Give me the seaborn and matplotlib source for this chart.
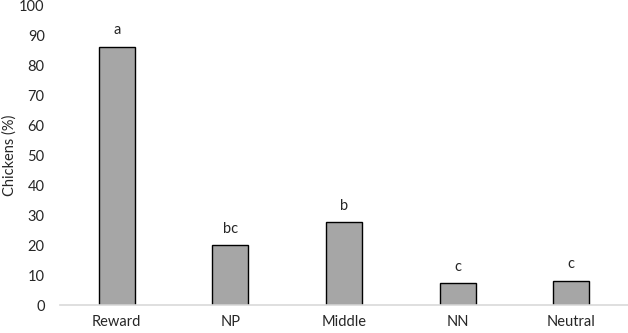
import matplotlib
matplotlib.use("Agg")
import matplotlib.pyplot as plt
import seaborn as sns
import pandas as pd

# Data
groups = ["Reward", "NP", "Middle", "NN", "Neutral"]
chickens_pct = [86.3, 20.1, 27.8, 7.4, 8.3]
letters = ["a", "bc", "b", "c", "c"]

df = pd.DataFrame({"group": groups, "pct": chickens_pct})

sns.set_theme(style="white")
plt.rcParams["font.family"] = ["Lato", "DejaVu Sans"]

fig = plt.figure(figsize=(6.28, 3.33), dpi=100)
ax = fig.add_axes([0.0955, 0.0826, 0.9045, 0.8994])

sns.barplot(
    data=df,
    x="group",
    y="pct",
    color="#a6a6a6",
    saturation=1,
    width=0.317,
    edgecolor="black",
    linewidth=1,
    ax=ax,
)

for i, (val, lab) in enumerate(zip(chickens_pct, letters)):
    ax.annotate(lab, (i, val), xytext=(0, 7), textcoords="offset points",
                ha="center", va="bottom", fontsize=10.5, color="#262626")

ax.set_xlim(-0.5, 4.5)
ax.set_ylim(0, 100)
ax.set_yticks(range(0, 101, 10))
ax.set_xlabel("")
ax.set_ylabel("Chickens (%)", fontsize=10.5, color="#262626", labelpad=2)
ax.tick_params(axis="both", length=0, labelsize=10.5, colors="#262626")
ax.tick_params(axis="y", pad=11)
ax.tick_params(axis="x", pad=7)

for side in ["left", "right", "top"]:
    ax.spines[side].set_visible(False)
ax.spines["bottom"].set_color("#d9d9d9")
ax.spines["bottom"].set_linewidth(1.2)

fig.savefig("out.png", dpi=100)
